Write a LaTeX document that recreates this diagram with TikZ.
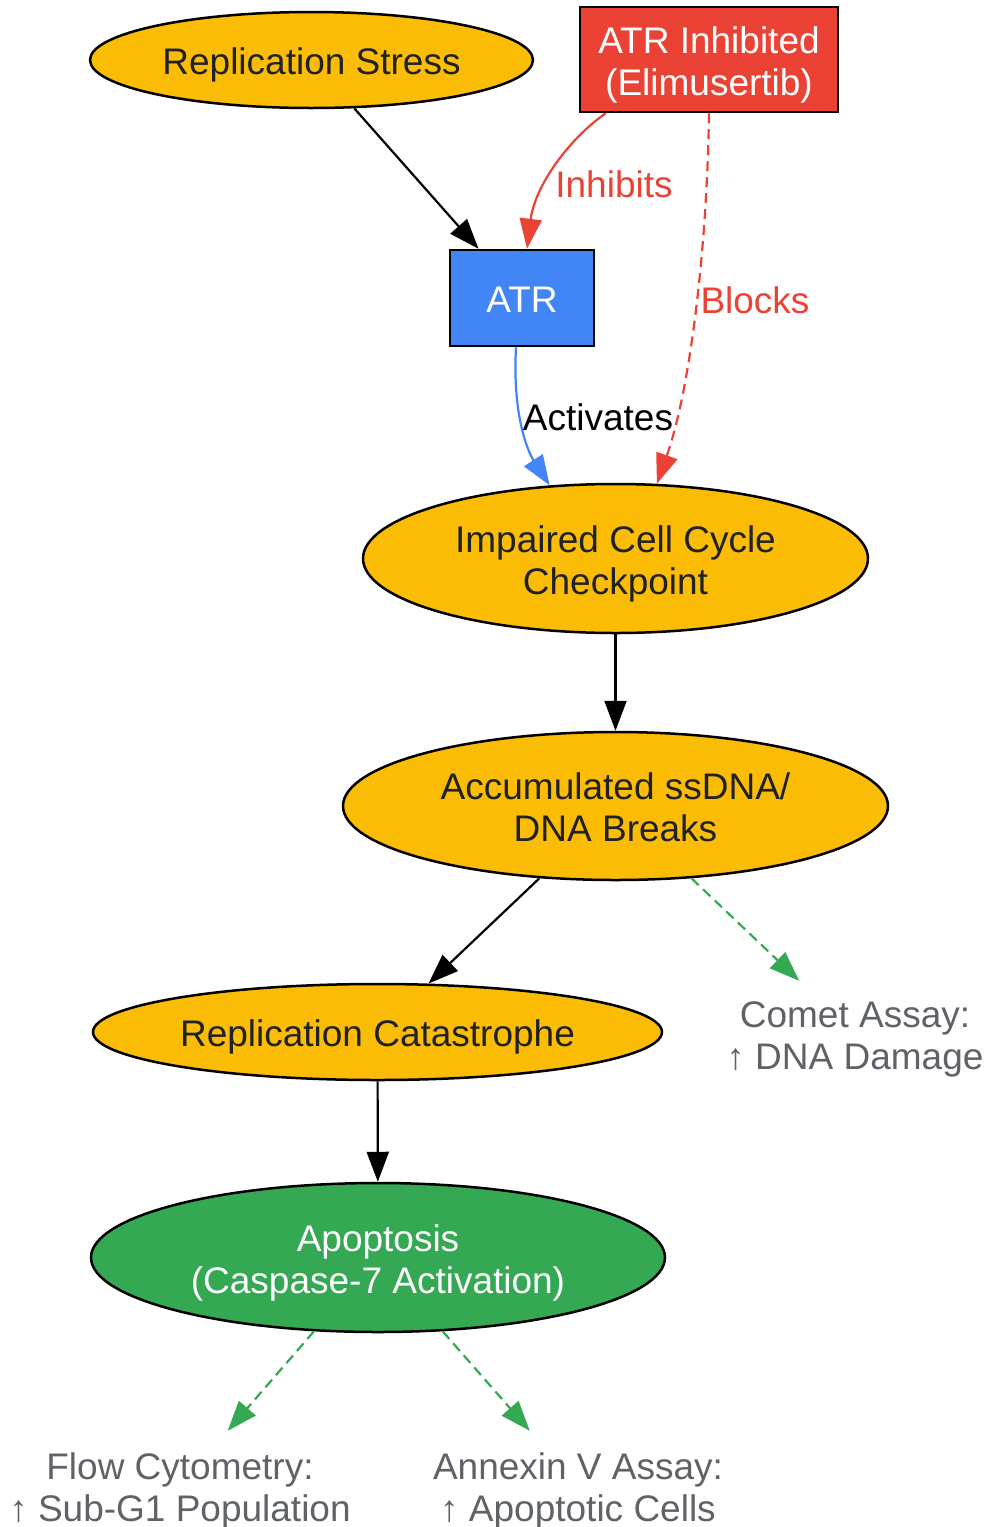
\documentclass[tikz,border=0pt]{standalone}
\usepackage{fontspec}
\setmainfont{Liberation Sans}
\usetikzlibrary{shapes.geometric,arrows.meta}
\definecolor{cyel}{HTML}{FBBC05}
\definecolor{cred}{HTML}{EA4335}
\definecolor{cblue}{HTML}{4285F4}
\definecolor{cgreen}{HTML}{34A853}
\definecolor{cgray}{HTML}{5F6368}
\definecolor{cdark}{HTML}{202124}
\newcommand{\lbltxt}[1]{\raisebox{-6.3pt}[\height][\depth]{\begin{tabular}{@{}c@{}}#1\end{tabular}}}
\begin{document}
\begin{tikzpicture}[x=1pt,y=-1pt,
  font=\fontsize{37}{42}\selectfont,
  every node/.style={inner sep=0pt},
  ell/.style={ellipse, draw=black, line width=2.5pt, fill=cyel, text=cdark, align=center},
  rectn/.style={rectangle, draw=black, line width=2.5pt, align=center, text=white},
  note/.style={text=cgray, align=center, inner sep=14pt},
  arr/.style={line width=2.2pt, -{Triangle[length=30pt,width=22pt]}},
  dsh/.style={dash pattern=on 10pt off 6pt}]
\useasboundingbox (0,0) rectangle (985,1527);

\node[ell, minimum width=443pt, minimum height=96pt] (rs) at (311.5,60) {\lbltxt{Replication Stress}};
\node[rectn, fill=cred, minimum width=258pt, minimum height=105pt] (atri) at (709,59.5) {\lbltxt{ATR Inhibited\\(Elimusertib)}};
\node[rectn, fill=cblue, minimum width=144pt, minimum height=96pt] (atr) at (522,298) {\lbltxt{ATR}};
\node[ell, minimum width=505pt, minimum height=149pt] (imp) at (615.5,558.5) {\lbltxt{Impaired Cell Cycle\\Checkpoint}};
\node[ell, minimum width=545pt, minimum height=148pt] (acc) at (615.5,806) {\lbltxt{Accumulated ssDNA/\\DNA Breaks}};
\node[ell, minimum width=569pt, minimum height=96pt] (rc) at (377.5,1032) {\lbltxt{Replication Catastrophe}};
\node[ell, fill=cgreen, text=white, minimum width=574pt, minimum height=149pt] (apo) at (378,1257.5) {\lbltxt{Apoptosis\\(Caspase-7 Activation)}};

\node[note, inner sep=11pt] (comet) at (855,1034) {\lbltxt{Comet Assay:\\↑ DNA Damage}};
\node[note, inner sep=13pt] (flow) at (180,1486) {\lbltxt{Flow Cytometry:\\↑ Sub-G1 Population}};
\node[note, inner sep=13pt] (annex) at (578,1486) {\lbltxt{Annexin V Assay:\\↑ Apoptotic Cells}};

\draw[arr] (rs) -- (atr);
\draw[arr, cred] ([xshift=27pt]atri.south west) .. controls (570,138) and (535,185) .. ([xshift=5pt]atr.north);
\node[text=cred] (linh) at (614,184) {Inhibits};
\draw[arr, cred, dsh] (atri.south) .. controls (707,250) and (690,390) .. (imp.61);
\node[text=cred] (lblk) at (755,300) {Blocks};
\draw[arr, cblue] ([xshift=-6pt]atr.south) .. controls (512,420) and (530,455) .. (imp.132);
\node (lact) at (598,417) {Activates};
\draw[arr] (imp) -- (acc);
\draw[arr] (acc) -- (rc);
\draw[arr, cgreen, dsh] (acc) -- (comet);
\draw[arr] (rc) -- (apo);
\draw[arr, cgreen, dsh] (apo) -- (flow);
\draw[arr, cgreen, dsh] (apo) -- (annex);
\end{tikzpicture}
\end{document}
